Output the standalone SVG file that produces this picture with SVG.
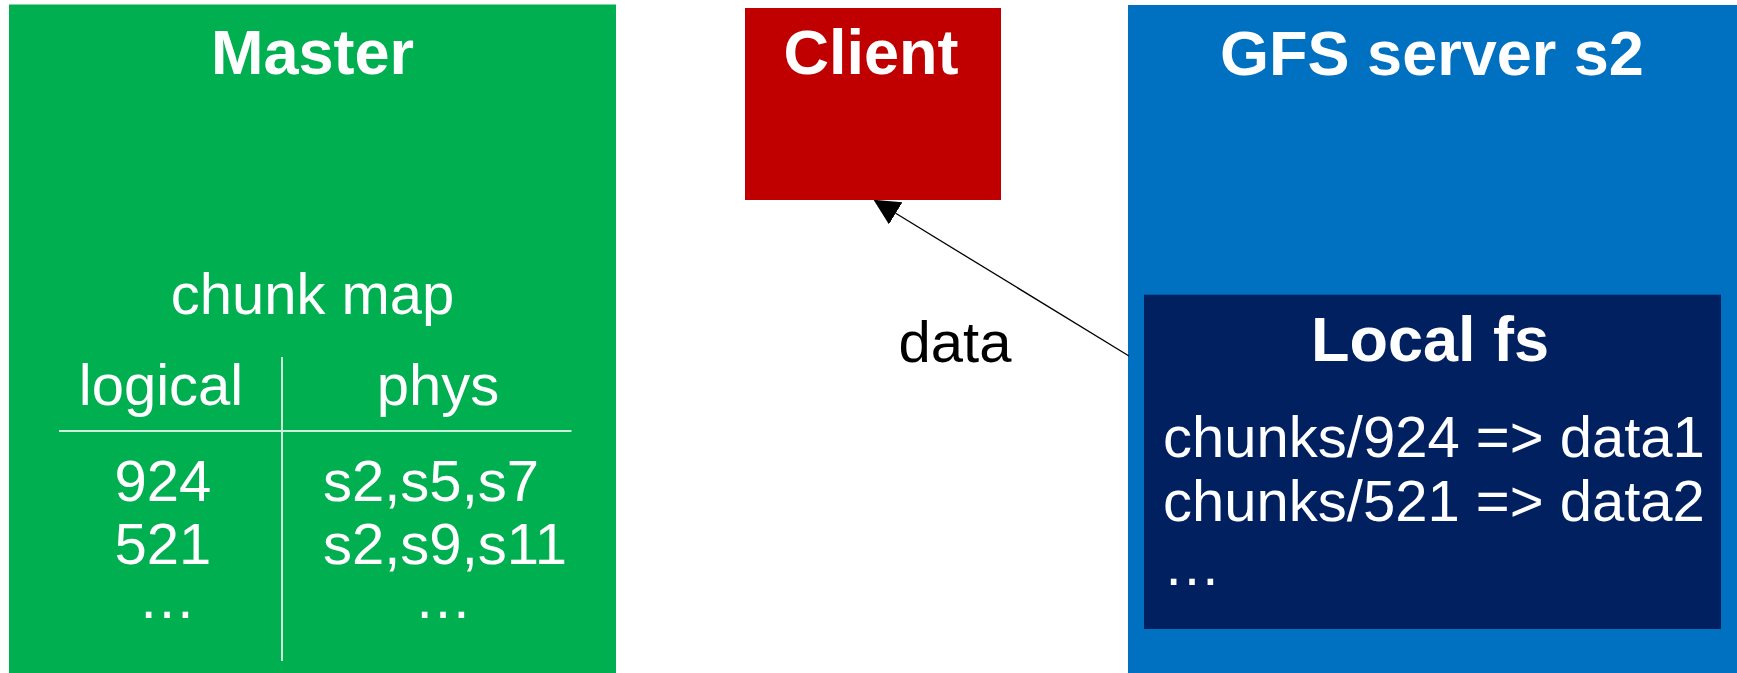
<svg xmlns="http://www.w3.org/2000/svg" width="1737" height="673" viewBox="0 0 1737 673">
  <style>
    .hdr { font-family: "Liberation Sans", Arial, sans-serif; font-weight: bold; font-size: 63px; fill: #ffffff; text-anchor: middle; }
    .body { font-family: "Liberation Sans", Arial, sans-serif; font-size: 58px; fill: #ffffff; }
    .mid { text-anchor: middle; }
    .tbl { stroke: #cdeedb; stroke-width: 2; }
    .conn { stroke: #000000; stroke-width: 1.3; fill: none; }
  </style>
  <defs>
    <marker id="arrow" markerUnits="userSpaceOnUse" markerWidth="26" markerHeight="26" refX="0" refY="13" orient="auto" viewBox="0 0 26 26">
      <path d="M0,0 L26,13 L0,26 z" fill="#000000"/>
    </marker>
  </defs>
  <rect width="1737" height="673" fill="#ffffff"/>

  <g id="master">
    <rect x="9" y="4.5" width="607" height="670" fill="#00AF50"/>
    <text class="hdr" x="312.5" y="74">Master</text>
    <text class="body mid" x="312.5" y="314">chunk map</text>
    <text class="body mid" x="161" y="405">logical</text>
    <text class="body mid" x="438" y="405">phys</text>
    <line class="tbl" x1="59" y1="431" x2="571.5" y2="431"/>
    <line class="tbl" x1="282" y1="357" x2="282" y2="661"/>
    <text class="body mid" x="163" y="501">924</text>
    <text class="body mid" x="163" y="564">521</text>
    <text class="body mid" x="167" y="618">…</text>
    <text class="body" x="323" y="501">s2,s5,s7</text>
    <text class="body" x="323" y="564">s2,s9,s11</text>
    <text class="body mid" x="443" y="618">…</text>
  </g>

  <g id="client">
    <rect x="745" y="8" width="256" height="192" fill="#C00000"/>
    <text class="hdr" x="871" y="73.5">Client</text>
  </g>

  <g id="gfs-server-s2">
    <rect x="1128" y="5" width="612" height="670" fill="#0070C0"/>
    <text class="hdr" x="1432" y="74.5">GFS server s2</text>
  </g>

  <g id="local-fs">
    <rect x="1144" y="294.7" width="577" height="334.3" fill="#002060"/>
    <text class="hdr" x="1430" y="361">Local fs</text>
    <text class="body" x="1163" y="456.5">chunks/924 =&gt; data1</text>
    <text class="body" x="1163" y="520.8">chunks/521 =&gt; data2</text>
    <text class="body" x="1163" y="585">…</text>
  </g>

  <g id="connectors">
    <line class="conn" x1="1129" y1="356" x2="895.7" y2="213.3" marker-end="url(#arrow)"/>
    <text x="955" y="362" font-family="Liberation Sans, Arial, sans-serif" font-size="58" fill="#000000" text-anchor="middle">data</text>
  </g>
</svg>
